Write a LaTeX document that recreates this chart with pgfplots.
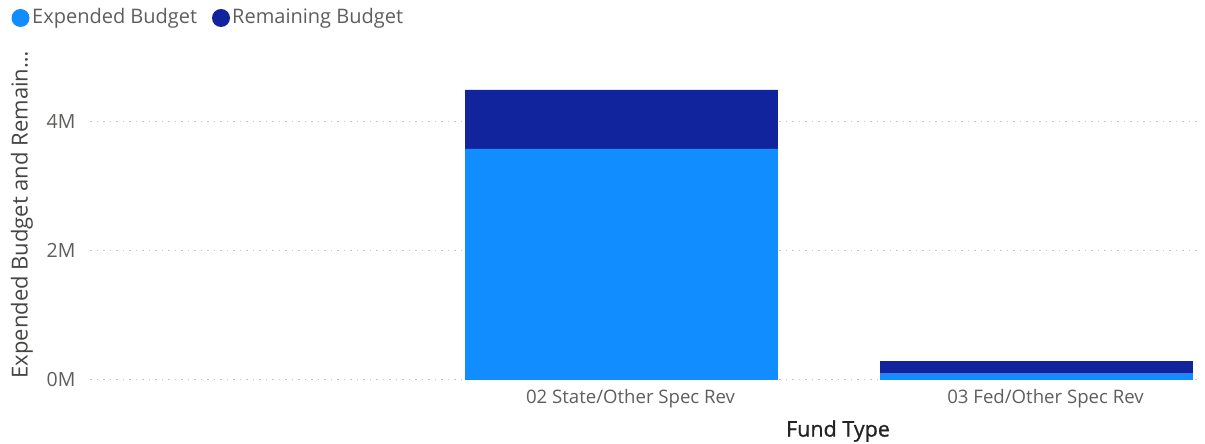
\documentclass[border=0pt]{standalone}
\usepackage{pgfplots}
\pgfplotsset{compat=1.18}
\usepackage{fontspec}
\setmainfont{Open Sans}
\newfontfamily\sbfont[FakeBold=1]{Open Sans}
\definecolor{expc}{HTML}{118DFF}
\definecolor{remc}{HTML}{12239E}
\definecolor{tickc}{HTML}{605E5C}
\definecolor{titc}{HTML}{252423}
\definecolor{gridc}{HTML}{C8C6C4}
\begin{document}
\begin{tikzpicture}
\path[use as bounding box] (0,0) rectangle (1205pt,444pt);
\begin{axis}[
  at={(90pt,64pt)}, anchor=south west,
  scale only axis, width=1110pt, height=324pt,
  ybar stacked, bar width=0.754,
  xmin=-0.281, xmax=2.394,
  ymin=0, ymax=5.004,
  xtick={1,2}, xticklabels={02 State/Other Spec Rev, 03 Fed/Other Spec Rev},
  ytick={0,2,4}, yticklabels={0M,2M,4M},
  axis line style={draw=none},
  major tick length=0pt,
  ymajorgrids, grid style={gridc, dash pattern=on 1.5pt off 5pt, line width=1pt},
  tick label style={text=tickc},
  yticklabel style={font=\fontsize{19.5}{22}\selectfont, xshift=-11pt},
  xticklabel style={font=\fontsize{18.6}{22}\selectfont, xshift=9pt, yshift=-6pt},
  /pgf/number format/assume math mode=true,
  clip=false,
]
\addplot[fill=expc, draw=none] coordinates {(1,3.57) (2,0.10)};
\addplot[fill=remc, draw=none] coordinates {(1,0.91) (2,0.193)};
\end{axis}
\node[font=\sbfont\fontsize{21.5}{24}\selectfont, text=titc, anchor=center] at (838pt,13pt) {Fund Type};
\node[font=\fontsize{22}{24}\selectfont, text=titc!85, rotate=90, anchor=center] at (22pt,229pt) {Expended Budget and Remain\ldots};
\fill[expc] (20.5pt,426pt) circle (9pt);
\node[font=\fontsize{20}{22}\selectfont, text=tickc, anchor=west, inner sep=0pt] at (32pt,426pt) {Expended Budget};
\fill[remc] (221pt,426pt) circle (9pt);
\node[font=\fontsize{20}{22}\selectfont, text=tickc, anchor=west, inner sep=0pt] at (232pt,426pt) {Remaining Budget};
\end{tikzpicture}
\end{document}
